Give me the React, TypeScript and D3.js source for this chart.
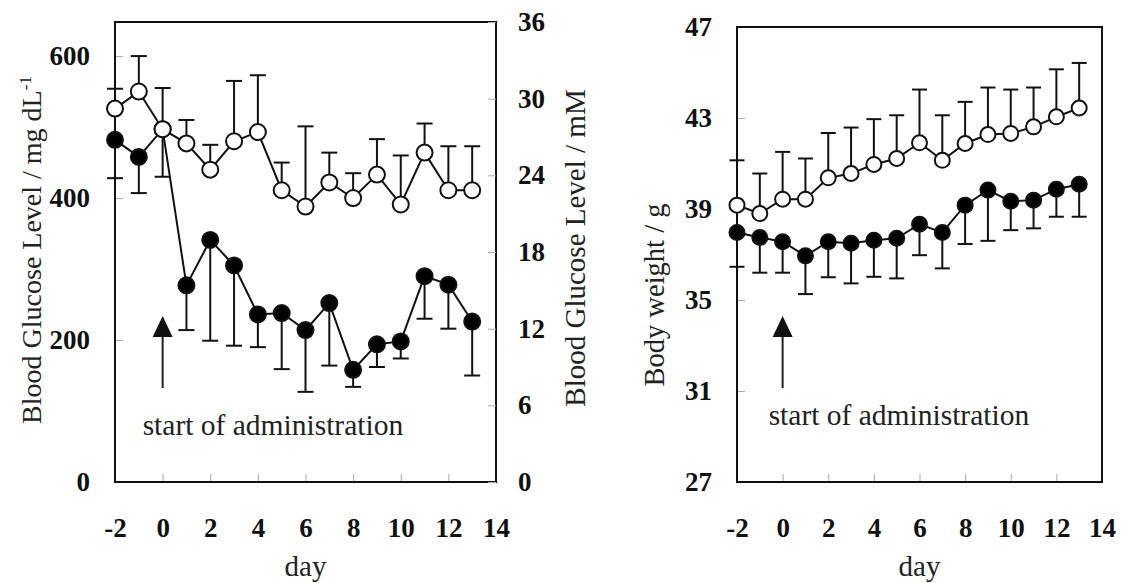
import React, { useRef, useEffect } from 'react';
import * as d3 from 'd3';

// days of the experiment
const days = [-2, -1, 0, 1, 2, 3, 4, 5, 6, 7, 8, 9, 10, 11, 12, 13];
const xTicks = [-2, 0, 2, 4, 6, 8, 10, 12, 14];

// blood glucose (mg/dL), open = control, filled = treated
const glucoseOpen = [526, 550, 497, 477, 440, 480, 493, 411, 388, 422, 400, 433, 391, 464, 411, 411];
const glucoseOpenErr = [28, 50, 58, 33, 35, 85, 80, 39, 113, 42, 35, 50, 69, 41, 62, 62];
const glucoseFilled = [482, 458, 497, 277, 341, 305, 236, 238, 214, 252, 158, 194, 198, 290, 278, 226];
const glucoseFilledErr = [54, 51, 67, 63, 142, 113, 46, 79, 87, 88, 24, 32, 24, 60, 62, 76];
const glucoseTicks = [0, 200, 400, 600];
const mMTicks = [0, 6, 12, 18, 24, 30, 36];

// body weight (g)
const weightOpen = [39.17, 38.8, 39.43, 39.43, 40.37, 40.56, 40.96, 41.22, 41.91, 41.14, 41.88, 42.27, 42.32, 42.61, 43.05, 43.44];
const weightOpenErr = [1.97, 1.76, 2.08, 1.79, 1.97, 2.02, 1.99, 1.9, 2.34, 1.98, 1.83, 2.07, 1.93, 1.73, 2.09, 1.98];
const weightFilled = [37.97, 37.75, 37.56, 36.94, 37.56, 37.49, 37.63, 37.71, 38.33, 37.97, 39.17, 39.83, 39.34, 39.39, 39.87, 40.09];
const weightFilledErr = [1.51, 1.55, 1.36, 1.68, 1.56, 1.76, 1.61, 1.76, 1.36, 1.58, 1.71, 2.23, 1.27, 1.24, 1.21, 1.43];
const weightTicks = [27, 31, 35, 39, 43, 47];

const FONT = '"Liberation Serif", "Times New Roman", Times, serif';
const plain = (d) => String(d); // hyphen minus like the original, not U+2212

function styleAxis(g) {
	g.select('.domain').remove();
	g.selectAll('.tick line').attr('stroke', '#aaa').attr('stroke-width', 1);
	g.selectAll('.tick text')
		.attr('fill', '#111')
		.style('font-family', FONT)
		.style('font-size', '27px')
		.style('font-weight', 'bold');
}

function drawPanel(svg, p) {
	const x = d3.scaleLinear().domain([-2, 14]).range([p.left, p.right]);
	const y = d3.scaleLinear().domain(p.yDomain).range([p.bottom, p.top]);
	const g = svg.append('g');

	// axes with small inner ticks
	g.append('g')
		.attr('transform', `translate(0,${p.bottom})`)
		.call(
			d3.axisBottom(x).tickValues(xTicks).tickFormat(plain).tickSizeInner(-8).tickSizeOuter(0).tickPadding(36)
		)
		.call(styleAxis);
	g.append('g')
		.attr('transform', `translate(${p.left},0)`)
		.call(
			d3.axisLeft(y).tickValues(p.yTicks).tickFormat(plain).tickSizeInner(-8).tickSizeOuter(0).tickPadding(25)
		)
		.call(styleAxis);

	// frame
	g.append('rect')
		.attr('x', p.left)
		.attr('y', p.top)
		.attr('width', p.right - p.left)
		.attr('height', p.bottom - p.top)
		.attr('fill', 'none')
		.attr('stroke', '#111')
		.attr('stroke-width', 2);

	const lineGen = d3
		.line()
		.x((d, i) => x(days[i]))
		.y((d) => y(d));

	const series = [
		{ vals: p.filled, err: p.filledErr, dir: -1, fill: '#000' },
		{ vals: p.open, err: p.openErr, dir: 1, fill: '#fff' },
	];

	// error bars (one-sided) and lines
	series.forEach((s) => {
		const eg = g.append('g').attr('stroke', '#111').attr('stroke-width', 2);
		eg.selectAll('line.bar')
			.data(s.vals)
			.join('line')
			.attr('class', 'bar')
			.attr('x1', (d, i) => x(days[i]))
			.attr('x2', (d, i) => x(days[i]))
			.attr('y1', (d) => y(d))
			.attr('y2', (d, i) => y(d + s.dir * s.err[i]));
		eg.selectAll('line.cap')
			.data(s.vals)
			.join('line')
			.attr('class', 'cap')
			.attr('x1', (d, i) => x(days[i]) - p.cap / 2)
			.attr('x2', (d, i) => x(days[i]) + p.cap / 2)
			.attr('y1', (d, i) => y(d + s.dir * s.err[i]))
			.attr('y2', (d, i) => y(d + s.dir * s.err[i]));
		g.append('path')
			.datum(s.vals)
			.attr('d', lineGen)
			.attr('fill', 'none')
			.attr('stroke', '#111')
			.attr('stroke-width', 2);
	});

	series.forEach((s) => {
		g.append('g')
			.selectAll('circle')
			.data(s.vals)
			.join('circle')
			.attr('cx', (d, i) => x(days[i]))
			.attr('cy', (d) => y(d))
			.attr('r', p.r)
			.attr('fill', s.fill)
			.attr('stroke', '#111')
			.attr('stroke-width', 2);
	});

	// start of administration arrow
	const ax = x(0);
	g.append('line')
		.attr('x1', ax)
		.attr('x2', ax)
		.attr('y1', 388)
		.attr('y2', 334)
		.attr('stroke', '#222')
		.attr('stroke-width', 2);
	g.append('path')
		.attr('d', `M${ax},316 L${ax - 10},337 L${ax + 10},337 Z`)
		.attr('fill', '#111');
	g.append('text')
		.attr('x', ax + p.noteDx)
		.attr('y', p.noteY)
		.attr('fill', '#222')
		.style('font-family', FONT)
		.style('font-size', '29.5px')
		.text('start of administration');

	// x title
	g.append('text')
		.attr('x', (p.left + p.right) / 2)
		.attr('y', 576)
		.attr('text-anchor', 'middle')
		.attr('fill', '#222')
		.style('font-family', FONT)
		.style('font-size', '29px')
		.text('day');

	return { x, y, g };
}

function yTitle(svg, cx, cy, text, size, sup) {
	const t = svg
		.append('text')
		.attr('transform', `translate(${cx},${cy}) rotate(-90)`)
		.attr('text-anchor', 'middle')
		.attr('dy', '0.35em')
		.attr('fill', '#222')
		.style('font-family', FONT)
		.style('font-size', size + 'px');
	t.append('tspan').text(text);
	if (sup) {
		t.append('tspan').attr('dy', '-0.55em').style('font-size', '17px').text(sup);
	}
}

export default function App() {
	const svgRef = useRef(null);

	useEffect(() => {
		const svg = d3.select(svgRef.current);
		svg.selectAll('*').remove();

		// left panel: blood glucose
		const left = drawPanel(svg, {
			left: 115,
			right: 496,
			top: 22,
			bottom: 482,
			yDomain: [0, 648],
			yTicks: glucoseTicks,
			open: glucoseOpen,
			openErr: glucoseOpenErr,
			filled: glucoseFilled,
			filledErr: glucoseFilledErr,
			r: 8,
			cap: 16,
			noteDx: -20,
			noteY: 435,
		});
		const yMM = d3.scaleLinear().domain([0, 36]).range([482, 22]);
		left.g
			.append('g')
			.attr('transform', 'translate(496,0)')
			.call(d3.axisRight(yMM).tickValues(mMTicks).tickSizeInner(-8).tickSizeOuter(0).tickPadding(22))
			.call(styleAxis);

		// right panel: body weight
		drawPanel(svg, {
			left: 737,
			right: 1102,
			top: 27,
			bottom: 482,
			yDomain: [27, 47],
			yTicks: weightTicks,
			open: weightOpen,
			openErr: weightOpenErr,
			filled: weightFilled,
			filledErr: weightFilledErr,
			r: 7.5,
			cap: 15,
			noteDx: -14,
			noteY: 425,
		});

		yTitle(svg, 31, 250, 'Blood Glucose Level / mg dL', 28, '-1');
		yTitle(svg, 575, 248, 'Blood Glucose Level / mM', 29);
		yTitle(svg, 654, 295, 'Body weight / g', 28.5);
	}, []);

	return (
		<svg
			ref={svgRef}
			width={1121}
			height={583}
			style={{ position: 'absolute', left: 0, top: 0, background: '#fff' }}
		/>
	);
}
